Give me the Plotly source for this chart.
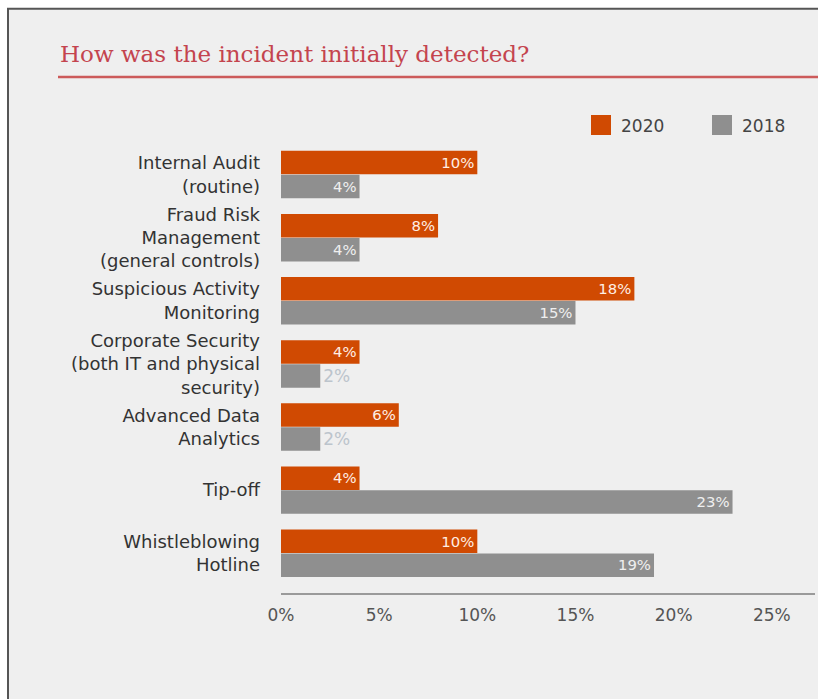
import plotly.graph_objects as go

categories = [
    "Internal Audit<br>(routine)",
    "Fraud Risk<br>Management<br>(general controls)",
    "Suspicious Activity<br>Monitoring",
    "Corporate Security<br>(both IT and physical<br>security)",
    "Advanced Data<br>Analytics",
    "Tip-off",
    "Whistleblowing<br>Hotline",
]
v2020 = [10, 8, 18, 4, 6, 4, 10]
v2018 = [4, 4, 15, 2, 2, 23, 19]
series_names = ["2020", "2018"]
tick_vals = [0, 5, 10, 15, 20, 25]
tick_text = [f"{v}%" for v in tick_vals]
title_text = "How was the incident initially detected?"

ORANGE = "#d04a02"
GRAY = "#8f8f8f"
SANS = "DejaVu Sans"

def positions(vals):
    return ["inside" if v >= 3 else "outside" for v in vals]

fig = go.Figure()
fig.add_trace(go.Bar(
    y=categories, x=v2020, orientation="h", name=series_names[0],
    marker=dict(color=ORANGE, line=dict(width=0)),
    text=[f"{v}%" for v in v2020], textposition=positions(v2020),
    insidetextanchor="end", textangle=0,
    insidetextfont=dict(color="#ffeee4", size=17, family=SANS),
    outsidetextfont=dict(color="#e8a07a", size=17, family=SANS),
    showlegend=False, hoverinfo="skip", cliponaxis=False,
))
fig.add_trace(go.Bar(
    y=categories, x=v2018, orientation="h", name=series_names[1],
    marker=dict(color=GRAY, line=dict(width=0)),
    text=[f"{v}%" for v in v2018], textposition=positions(v2018),
    insidetextanchor="end", textangle=0,
    insidetextfont=dict(color="#efefef", size=17, family=SANS),
    outsidetextfont=dict(color="#bcc4cc", size=17, family=SANS),
    showlegend=False, hoverinfo="skip", cliponaxis=False,
))
# legend entries with large square swatches, one legend box per series
for nm, col, lg in zip(series_names, [ORANGE, GRAY], ["legend", "legend2"]):
    fig.add_trace(go.Scatter(
        x=[None], y=[None], mode="markers", name=nm, legend=lg,
        marker=dict(symbol="square", size=16, color=col,
                    line=dict(color=col, width=4)),
    ))

W, H = 818, 699
L, R, T, B = 281, 3, 142.5, 106
pw, ph = W - L - R, H - T - B

def px_x(p):
    return (p - L) / pw

def px_y(p):
    return (H - B - p) / ph

leg_common = dict(
    orientation="h", xanchor="left", y=px_y(125), yanchor="middle",
    font=dict(size=17, color="#444444", family=SANS),
    bgcolor="rgba(0,0,0,0)", itemclick=False, itemdoubleclick=False,
)

fig.update_layout(
    width=W, height=H,
    margin=dict(l=L, r=R, t=T, b=B, pad=0),
    paper_bgcolor="white",
    plot_bgcolor="rgba(0,0,0,0)",
    barmode="group", bargap=0.24, bargroupgap=0.02,
    font=dict(family=SANS, color="#333333"),
    title=dict(
        text=title_text, x=60 / W, xanchor="left",
        y=1 - 54 / H, yanchor="middle", xref="container", yref="container",
        font=dict(family="DejaVu Serif", size=23, color="#c4444e"),
    ),
    legend=dict(x=px_x(581), **leg_common),
    legend2=dict(x=px_x(702), **leg_common),
    xaxis=dict(
        range=[0, 27.2], tickmode="array", tickvals=tick_vals, ticktext=tick_text,
        showgrid=False, zeroline=False, showline=True,
        linecolor="#9a9a9a", linewidth=1.5, ticks="",
        tickfont=dict(size=17, color="#555555", family=SANS),
        ticklabelstandoff=6, fixedrange=True,
    ),
    yaxis=dict(
        type="category", range=[6.63, -0.5],
        showgrid=False, zeroline=False, showline=False, ticks="",
        tickfont=dict(size=18, color="#333333", family=SANS),
        ticklabelstandoff=20, fixedrange=True,
    ),
    shapes=[
        dict(type="rect", xref="paper", yref="paper", layer="below",
             x0=px_x(8), x1=px_x(840), y0=px_y(720), y1=px_y(8),
             fillcolor="#efefef", line=dict(color="#555555", width=2)),
        dict(type="line", xref="paper", yref="paper",
             x0=px_x(58), x1=px_x(820), y0=px_y(76.5), y1=px_y(76.5),
             line=dict(color="#cc5a5a", width=2.5)),
    ],
)

fig.write_html("out.html")
